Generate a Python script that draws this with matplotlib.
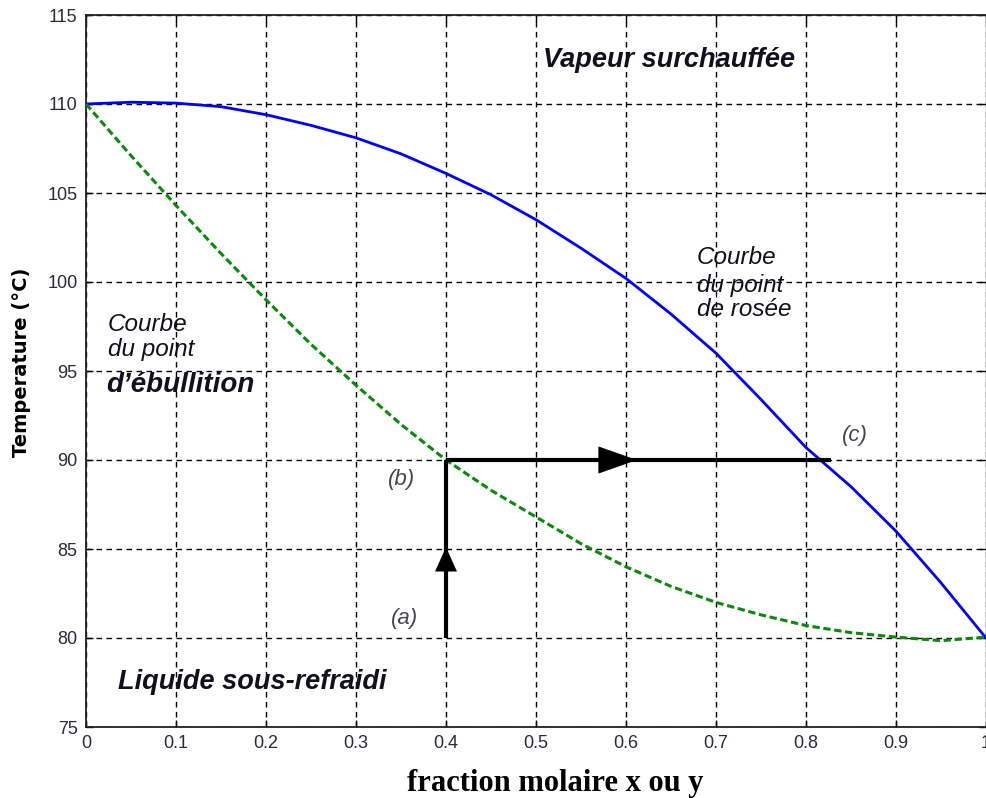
import matplotlib
matplotlib.use("Agg")
import matplotlib.pyplot as plt
import numpy as np

# Data
x_dew = [0.0, 0.05, 0.1, 0.15, 0.2, 0.25, 0.3, 0.35, 0.4, 0.45, 0.5, 0.55, 0.6, 0.65, 0.7, 0.75, 0.8, 0.85, 0.9, 0.95, 1.0]
t_dew = [110.0, 110.1, 110.05, 109.85, 109.4, 108.8, 108.1, 107.2, 106.1, 104.9, 103.5, 101.9, 100.2, 98.2, 96.0, 93.4, 90.7, 88.5, 86.0, 83.1, 80.0]

x_bub = [0.0, 0.05, 0.1, 0.15, 0.2, 0.25, 0.3, 0.35, 0.4, 0.45, 0.5, 0.55, 0.6, 0.65, 0.7, 0.75, 0.8, 0.85, 0.9, 0.95, 1.0]
t_bub = [110.0, 107.1, 104.3, 101.6, 99.0, 96.5, 94.2, 92.0, 90.0, 88.3, 86.8, 85.3, 84.0, 82.9, 82.0, 81.3, 80.7, 80.3, 80.05, 79.85, 80.05]

x_ticks = [0, 0.1, 0.2, 0.3, 0.4, 0.5, 0.6, 0.7, 0.8, 0.9, 1.0]
x_ticklabels = ["0", "0.1", "0.2", "0.3", "0.4", "0.5", "0.6", "0.7", "0.8", "0.9", "1"]
y_ticks = [75, 80, 85, 90, 95, 100, 105, 110, 115]

x_feed = 0.4
t_a = 80.0
t_b = 90.0
x_c = 0.828

W, H = 987, 798
fig = plt.figure(figsize=(W / 100, H / 100), dpi=100)
ax = fig.add_axes([86 / W, 1 - 727 / H, 900 / W, 712 / H])

ax.set_xlim(0, 1)
ax.set_ylim(75, 115)
ax.set_xticks(x_ticks)
ax.set_xticklabels(x_ticklabels)
ax.set_yticks(y_ticks)

ax.grid(True, color="black", linestyle=(0, (4, 3.2)), linewidth=1.0)
ax.set_axisbelow(True)

tick_color = "#2b2b3c"
ax.tick_params(direction="in", top=True, right=True, length=5, width=1.0,
               labelsize=13, labelcolor=tick_color, pad=6)
for lab in ax.get_xticklabels() + ax.get_yticklabels():
    lab.set_family("Liberation Sans")

for s in ["left", "bottom", "top"]:
    ax.spines[s].set_linewidth(1.3)
    ax.spines[s].set_color("#222222")
ax.spines["right"].set_color("#999999")
ax.spines["right"].set_linewidth(1.0)

# Curves
ax.plot(x_dew, t_dew, color="#0000ff", linewidth=2.0, zorder=3)
ax.plot(x_bub, t_bub, color="#0a8a0a", linewidth=2.2, dashes=(2.4, 1.2), zorder=3)

# Heating path
ax.plot([x_feed, x_feed], [t_a, t_b], color="black", linewidth=3.0, zorder=4, solid_capstyle="butt")
ax.plot([x_feed, x_c], [t_b, t_b], color="black", linewidth=3.0, zorder=4, solid_capstyle="butt")
ax.annotate("", xy=(x_feed, 85.1), xytext=(x_feed, 83.6),
            arrowprops=dict(arrowstyle="-|>,head_length=1.66,head_width=0.75",
                            mutation_scale=10, color="black", lw=0.5,
                            shrinkA=0, shrinkB=0), zorder=5)
ax.annotate("", xy=(0.612, t_b), xytext=(0.56, t_b),
            arrowprops=dict(arrowstyle="-|>,head_length=2.66,head_width=0.94",
                            mutation_scale=10, color="black", lw=0.5,
                            shrinkA=0, shrinkB=0), zorder=5)

txt_color = "#10101e"
sans = "Liberation Sans"
ax.text(0.508, 112.47, "Vapeur surchauffée", family=sans, style="italic", weight="bold",
        fontsize=19.5, color=txt_color, ha="left", va="center")
ax.text(0.0356, 77.53, "Liquide sous-refraidi", family=sans, style="italic", weight="bold",
        fontsize=19.5, color=txt_color, ha="left", va="center")
ax.text(0.024, 97.64, "Courbe", family=sans, style="italic", fontsize=17.5,
        color=txt_color, ha="left", va="center")
ax.text(0.024, 96.18, "du point", family=sans, style="italic", fontsize=17.5,
        color=txt_color, ha="left", va="center")
ax.text(0.022, 94.21, "d\u2019ébullition", family=sans, style="italic", weight="bold",
        fontsize=20, color=txt_color, ha="left", va="center")
ax.text(0.679, 101.4, "Courbe", family=sans, style="italic", fontsize=17.5,
        color=txt_color, ha="left", va="center")
ax.text(0.679, 99.83, "du point", family=sans, style="italic", fontsize=17.5,
        color=txt_color, ha="left", va="center")
ax.text(0.679, 98.43, "de rosée", family=sans, style="italic", fontsize=17.5,
        color=txt_color, ha="left", va="center")

lab_color = "#444455"
ax.text(0.354, 81.1, "(a)", family=sans, style="italic", fontsize=16, color=lab_color,
        ha="center", va="center")
ax.text(0.351, 88.88, "(b)", family=sans, style="italic", fontsize=16, color=lab_color,
        ha="center", va="center")
ax.text(0.854, 91.4, "(c)", family=sans, style="italic", fontsize=16, color=lab_color,
        ha="center", va="center")

fig.text(555 / W, 1 - 783 / H, "fraction molaire x ou y", family="Liberation Serif",
         weight="bold", fontsize=22, color="black", ha="center", va="center")
fig.text(22 / W, 1 - 362 / H, "Temperature (\u00b0C)", family="DejaVu Sans", weight="bold",
         fontsize=14, color="black", ha="center", va="center", rotation=90)

fig.savefig("out.png", dpi=100)
